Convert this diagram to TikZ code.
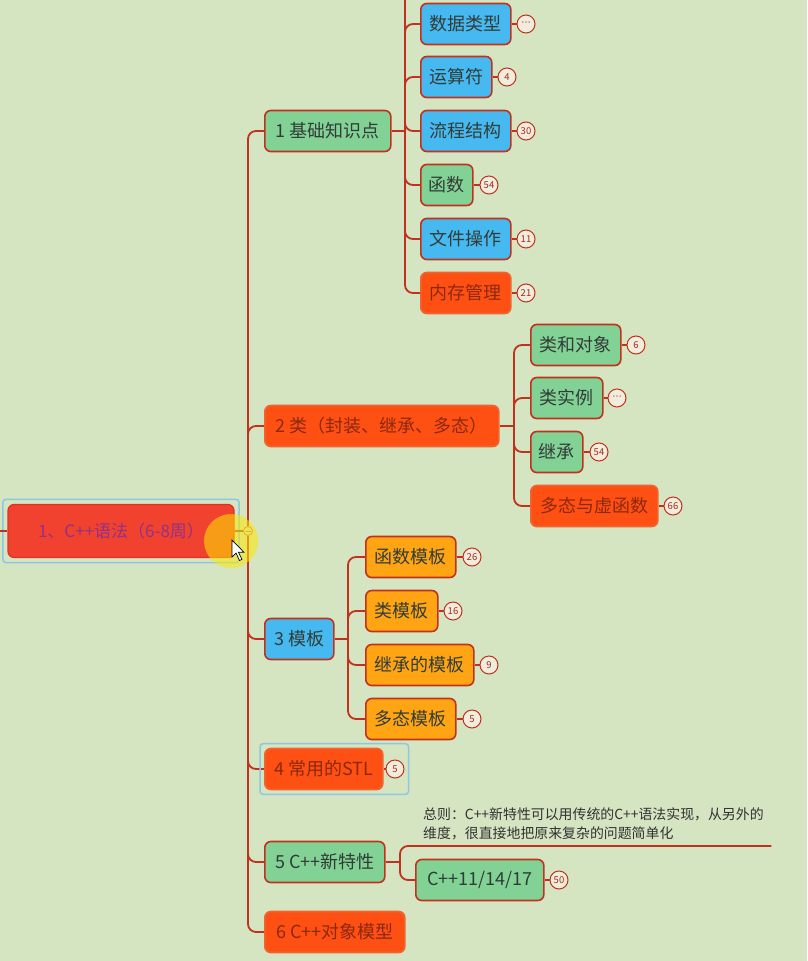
\documentclass[tikz,border=0pt]{standalone}
\usepackage{fontspec}
\setmainfont{Noto Sans CJK SC}
\newfontfamily\symfont{DejaVu Sans}
\usepackage{xcolor}
\usepackage{tikz}
\usetikzlibrary{positioning, calc, fit}

\definecolor{bgc}{RGB}{213,228,193}
\definecolor{linkc}{RGB}{192,50,30}
\definecolor{greenf}{RGB}{130,210,150}
\definecolor{bluef}{RGB}{70,185,240}
\definecolor{redf}{RGB}{255,80,20}
\definecolor{redb}{RGB}{240,100,50}
\definecolor{orangef}{RGB}{255,165,20}
\definecolor{rootf}{RGB}{240,66,46}
\definecolor{rootb}{RGB}{220,50,35}
\definecolor{txtc}{RGB}{50,60,55}
\definecolor{redtxt}{RGB}{140,40,15}
\definecolor{roottxt}{RGB}{145,50,135}
\definecolor{selc}{RGB}{140,200,225}
\definecolor{badgef}{RGB}{242,236,220}
\definecolor{badgetxt}{RGB}{160,45,30}
\definecolor{notetxt}{RGB}{50,50,50}

\tikzset{
    topic/.style={draw=linkc, line width=1.6pt, rounded corners=6pt, minimum height=41pt,
        inner xsep=8pt, text=txtc, font=\fontsize{18}{21}\selectfont, anchor=west},
    greentopic/.style={topic, fill=greenf},
    bluetopic/.style={topic, fill=bluef},
    redtopic/.style={topic, fill=redf, draw=redb, text=redtxt},
    orangetopic/.style={topic, fill=orangef},
    roottopic/.style={fill=rootf, draw=rootb, line width=1.2pt, rounded corners=6pt,
        minimum width=226pt, minimum height=53pt, text=roottxt, font=\fontsize{17}{20}\selectfont},
    badge/.style={circle, draw=linkc, line width=1pt, fill=badgef, minimum size=18pt,
        inner sep=0pt, text=badgetxt, font=\fontsize{9.5}{10}\selectfont},
    link/.style={draw=linkc, line width=1.8pt, rounded corners=8pt},
    blink/.style={draw=linkc, line width=1.3pt},
    sel/.style={draw=selc, line width=1.5pt, rounded corners=3pt, inner sep=4.5pt},
    notetext/.style={anchor=south west, align=left, inner xsep=0pt, inner ysep=6pt,
        text width=348pt, text=notetxt, font=\fontsize{13.9}{19}\selectfont},
    fold/.style={circle, draw=linkc!70, fill=bgc, line width=0.8pt, minimum size=9pt, inner sep=0pt}
}

\begin{document}
\begin{tikzpicture}[x=1pt, y=-1pt]
    \clip (0,0) rectangle (807,961);
    \fill[bgc] (0,0) rectangle (807,961);

    % Root
    \node[roottopic] (root) at (121,531) {1、C++语法（6-8周）};
    \node[sel, fit=(root)] (rootsel) {};
    \coordinate (rootin) at (-10,531);
    \coordinate (t0) at (248,531);
    \draw[link] (rootin) -- (root.west);
    \draw[link] (root.east) -- (t0);

    % Level 1
    \node[greentopic, minimum width=126pt] (k1) at (264,131) {1 基础知识点};
    \node[redtopic, minimum width=234pt] (k2) at (264,426) {2 类（封装、继承、多态）};
    \node[bluetopic, minimum width=69pt] (k3) at (264,639) {3 模板};
    \node[redtopic, minimum width=118pt] (k4) at (264,769) {4 常用的STL};
    \node[greentopic, minimum width=120pt] (k5) at (264,862) {5 C++新特性};
    \node[redtopic, minimum width=140pt] (k6) at (264,932) {6 C++对象模型};
    \draw[link] (t0) |- (k1.west);
    \draw[link] (t0) |- (k2.west);
    \draw[link] (t0) |- (k3.west);
    \draw[link] (t0) |- (k4.west);
    \draw[link] (t0) |- (k5.west);
    \draw[link] (t0) |- (k6.west);
    \node[badge] (k4b) at (395,769) {5};
    \draw[blink] (k4) -- (k4b);
    \node[sel, inner sep=4pt, fit=(k4)(k4b)] (k4sel) {};

    % 1 基础知识点
    \coordinate (s1) at (405,131);
    \coordinate (up1) at (405,-10);
    \node[bluetopic, minimum width=90pt] (d1) at (420,24) {数据类型};
    \node[bluetopic, minimum width=71pt] (d2) at (420,77) {运算符};
    \node[bluetopic, minimum width=90pt] (d3) at (420,131) {流程结构};
    \node[greentopic, minimum width=52pt] (d4) at (420,185) {函数};
    \node[bluetopic, minimum width=90pt] (d5) at (420,239) {文件操作};
    \node[redtopic, minimum width=90pt] (d6) at (420,293) {内存管理};
    \draw[link] (k1.east) -- (s1);
    \draw[link] (s1) -- (up1);
    \draw[link] (s1) |- (d1.west);
    \draw[link] (s1) |- (d2.west);
    \draw[link] (s1) |- (d3.west);
    \draw[link] (s1) |- (d4.west);
    \draw[link] (s1) |- (d5.west);
    \draw[link] (s1) |- (d6.west);
    \node[badge] (d1b) at (526,24) {\symfont ⋯};
    \node[badge] (d2b) at (507,77) {4};
    \node[badge] (d3b) at (526,131) {30};
    \node[badge] (d4b) at (489,185) {54};
    \node[badge] (d5b) at (526,239) {11};
    \node[badge] (d6b) at (526,293) {21};
    \draw[blink] (d1) -- (d1b);
    \draw[blink] (d2) -- (d2b);
    \draw[blink] (d3) -- (d3b);
    \draw[blink] (d4) -- (d4b);
    \draw[blink] (d5) -- (d5b);
    \draw[blink] (d6) -- (d6b);

    % 2 类
    \coordinate (s2) at (514,426);
    \node[greentopic, minimum width=90pt] (c1) at (530,345) {类和对象};
    \node[greentopic, minimum width=72pt] (c2) at (530,398) {类实例};
    \node[greentopic, minimum width=52pt] (c3) at (530,452) {继承};
    \node[redtopic, minimum width=127pt] (c4) at (530,506) {多态与虚函数};
    \draw[link] (k2.east) -- (s2);
    \draw[link] (s2) |- (c1.west);
    \draw[link] (s2) |- (c2.west);
    \draw[link] (s2) |- (c3.west);
    \draw[link] (s2) |- (c4.west);
    \node[badge] (c1b) at (636,345) {6};
    \node[badge] (c2b) at (617,398) {\symfont ⋯};
    \node[badge] (c3b) at (599,452) {54};
    \node[badge] (c4b) at (673,506) {66};
    \draw[blink] (c1) -- (c1b);
    \draw[blink] (c2) -- (c2b);
    \draw[blink] (c3) -- (c3b);
    \draw[blink] (c4) -- (c4b);

    % 3 模板
    \coordinate (s3) at (348,639);
    \node[orangetopic, minimum width=90pt] (m1) at (365,557) {函数模板};
    \node[orangetopic, minimum width=72pt] (m2) at (365,611) {类模板};
    \node[orangetopic, minimum width=108pt] (m3) at (365,665) {继承的模板};
    \node[orangetopic, minimum width=90pt] (m4) at (365,719) {多态模板};
    \draw[link] (k3.east) -- (s3);
    \draw[link] (s3) |- (m1.west);
    \draw[link] (s3) |- (m2.west);
    \draw[link] (s3) |- (m3.west);
    \draw[link] (s3) |- (m4.west);
    \node[badge] (m1b) at (472,557) {26};
    \node[badge] (m2b) at (453,611) {16};
    \node[badge] (m3b) at (489,665) {9};
    \node[badge] (m4b) at (472,719) {5};
    \draw[blink] (m1) -- (m1b);
    \draw[blink] (m2) -- (m2b);
    \draw[blink] (m3) -- (m3b);
    \draw[blink] (m4) -- (m4b);

    % 5 C++新特性
    \coordinate (s5) at (400,862);
    \node[notetext] (note) at (423,846) {总则：C++新特性可以用传统的C++语法实现，从另外的\\维度，很直接地把原来复杂的问题简单化};
    \node[greentopic, minimum width=128pt] (n1) at (415,880) {C++11/14/17};
    \draw[link] (k5.east) -- (s5);
    \draw[link] (s5) |- (note.south east);
    \draw[link] (s5) |- (n1.west);
    \node[badge] (n1b) at (559,880) {50};
    \draw[blink] (n1) -- (n1b);

    % Fold mark and cursor halo
    \node[fold] (rootfold) at (t0) {};
    \draw[linkc!70, line width=0.8pt] ($(rootfold.center)+(-2.5,0)$) -- ($(rootfold.center)+(2.5,0)$);
    \fill[yellow!90!orange, opacity=0.55] (231,541) circle[radius=27pt];
    \filldraw[fill=white, draw=black, line width=0.7pt] (232,540) -- ++(0,17) -- ++(4,-4) -- ++(3.5,7.5)
        -- ++(2.5,-1.2) -- ++(-3.5,-7) -- ++(5.5,0) -- cycle;
\end{tikzpicture}
\end{document}
